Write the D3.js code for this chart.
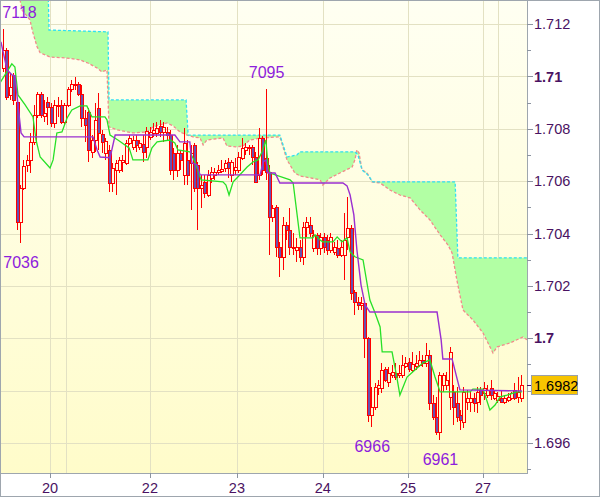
<!DOCTYPE html>
<html><head><meta charset="utf-8">
<script src="https://cdn.jsdelivr.net/npm/d3@7"></script>
<style>html,body{margin:0;padding:0;background:#fff;}svg{display:block;font-family:Arial,"Liberation Sans",sans-serif;}</style>
</head><body><svg id="c" width="600" height="497"></svg>
<script>
// ---- DATA (hourly candles) ----
const opens=[1.71032,1.71101,1.70929,1.71006,1.70902,1.70444,1.70574,1.70662,1.70681,1.70750,
1.70853,1.70933,1.70849,1.70902,1.70883,1.70822,1.70887,1.70891,1.70826,1.70891,
1.70952,1.70967,1.70971,1.70933,1.70841,1.70864,1.70712,1.70757,1.70880,1.70780,
1.70708,1.70719,1.70593,1.70643,1.70643,1.70673,1.70670,1.70746,1.70731,1.70757,
1.70731,1.70742,1.70731,1.70769,1.70784,1.70784,1.70811,1.70788,1.70788,1.70776,
1.70708,1.70643,1.70708,1.70624,1.70681,1.70670,1.70738,1.70662,1.70574,1.70597,
1.70547,1.70612,1.70624,1.70635,1.70639,1.70650,1.70673,1.70624,1.70643,1.70643,
1.70689,1.70719,1.70727,1.70731,1.70692,1.70624,1.70765,1.70689,1.70635,1.70463,
1.70501,1.70349,1.70311,1.70433,1.70414,1.70349,1.70337,1.70349,1.70311,1.70425,
1.70433,1.70345,1.70395,1.70345,1.70387,1.70375,1.70337,1.70330,1.70345,1.70318,
1.70318,1.70387,1.70421,1.70177,1.70139,1.70127,1.70135,1.70001,1.69707,1.69738,
1.69810,1.69810,1.69883,1.69833,1.69860,1.69868,1.69860,1.69860,1.69894,1.69910,
1.69879,1.69894,1.69898,1.69917,1.69906,1.69936,1.69753,1.69699,1.69642,1.69822,
1.69822,1.69776,1.69795,1.69753,1.69707,1.69680,1.69757,1.69757,1.69772,1.69757,
1.69803,1.69791,1.69783,1.69810,1.69772,1.69764,1.69772,1.69757,1.69764,1.69772,
1.69803,1.69776,1.69772];
const highs=[1.71181,1.71109,1.71013,1.71013,1.70910,1.70585,1.70681,1.70700,1.70784,1.70891,
1.70941,1.70941,1.70910,1.70922,1.70899,1.70910,1.70922,1.70910,1.70899,1.70960,
1.70986,1.70998,1.70979,1.70967,1.70872,1.70880,1.70776,1.70899,1.70937,1.70796,
1.70765,1.70738,1.70670,1.70681,1.70692,1.70700,1.70757,1.70776,1.70773,1.70776,
1.70757,1.70776,1.70807,1.70807,1.70822,1.70826,1.70834,1.70826,1.70807,1.70796,
1.70727,1.70738,1.70719,1.70803,1.70757,1.70738,1.70746,1.70673,1.70624,1.70624,
1.70643,1.70654,1.70650,1.70662,1.70681,1.70681,1.70689,1.70681,1.70689,1.70712,
1.70765,1.70746,1.70738,1.70738,1.70712,1.70803,1.70773,1.70950,1.70662,1.70509,
1.70509,1.70368,1.70463,1.70444,1.70498,1.70402,1.70383,1.70375,1.70444,1.70463,
1.70463,1.70414,1.70402,1.70402,1.70402,1.70395,1.70402,1.70368,1.70375,1.70375,
1.70479,1.70540,1.70433,1.70184,1.70158,1.70158,1.70139,1.70005,1.69814,1.69829,
1.69841,1.69906,1.69890,1.69890,1.69898,1.69906,1.69898,1.69936,1.69929,1.69925,
1.69948,1.69936,1.69952,1.69936,1.69982,1.69955,1.69783,1.69776,1.69871,1.69868,
1.69871,1.69967,1.69822,1.69814,1.69726,1.69814,1.69803,1.69795,1.69791,1.69814,
1.69814,1.69833,1.69822,1.69841,1.69803,1.69795,1.69803,1.69783,1.69791,1.69795,
1.69829,1.69852,1.69860];
const lows=[1.71017,1.70910,1.70910,1.70891,1.70414,1.70364,1.70566,1.70635,1.70631,1.70738,
1.70841,1.70841,1.70826,1.70815,1.70807,1.70803,1.70845,1.70818,1.70815,1.70883,
1.70941,1.70948,1.70925,1.70807,1.70750,1.70673,1.70689,1.70712,1.70719,1.70708,
1.70681,1.70559,1.70559,1.70547,1.70631,1.70635,1.70662,1.70738,1.70719,1.70712,
1.70719,1.70673,1.70689,1.70757,1.70769,1.70769,1.70769,1.70750,1.70757,1.70624,
1.70605,1.70616,1.70643,1.70585,1.70585,1.70490,1.70559,1.70414,1.70498,1.70536,
1.70540,1.70593,1.70605,1.70624,1.70631,1.70635,1.70612,1.70597,1.70624,1.70631,
1.70681,1.70700,1.70700,1.70662,1.70593,1.70605,1.70624,1.70605,1.70318,1.70444,
1.70311,1.70234,1.70261,1.70375,1.70318,1.70318,1.70291,1.70291,1.70280,1.70387,
1.70387,1.70330,1.70318,1.70318,1.70326,1.70318,1.70326,1.70318,1.70307,1.70311,
1.70223,1.70337,1.70146,1.70089,1.70108,1.70108,1.69925,1.69680,1.69660,1.69726,
1.69783,1.69791,1.69833,1.69814,1.69848,1.69841,1.69848,1.69848,1.69887,1.69871,
1.69871,1.69879,1.69890,1.69890,1.69890,1.69726,1.69688,1.69631,1.69610,1.69795,
1.69803,1.69726,1.69669,1.69680,1.69650,1.69657,1.69726,1.69719,1.69719,1.69715,
1.69745,1.69764,1.69772,1.69764,1.69764,1.69753,1.69753,1.69749,1.69757,1.69764,
1.69764,1.69753,1.69757];
const closes=[1.71101,1.70922,1.70960,1.70910,1.70444,1.70574,1.70658,1.70681,1.70750,1.70853,
1.70933,1.70853,1.70860,1.70883,1.70822,1.70891,1.70891,1.70826,1.70891,1.70952,
1.70971,1.70971,1.70933,1.70841,1.70815,1.70719,1.70757,1.70834,1.70784,1.70750,
1.70754,1.70593,1.70650,1.70670,1.70681,1.70681,1.70746,1.70765,1.70757,1.70738,
1.70746,1.70712,1.70792,1.70788,1.70796,1.70803,1.70788,1.70807,1.70776,1.70643,
1.70643,1.70708,1.70681,1.70746,1.70624,1.70708,1.70574,1.70574,1.70585,1.70555,
1.70624,1.70635,1.70635,1.70643,1.70647,1.70670,1.70650,1.70673,1.70654,1.70692,
1.70727,1.70731,1.70731,1.70692,1.70597,1.70765,1.70643,1.70635,1.70463,1.70498,
1.70349,1.70311,1.70433,1.70414,1.70349,1.70345,1.70349,1.70311,1.70425,1.70444,
1.70402,1.70395,1.70345,1.70387,1.70349,1.70337,1.70387,1.70349,1.70318,1.70349,
1.70375,1.70421,1.70173,1.70139,1.70127,1.70135,1.70001,1.69707,1.69738,1.69814,
1.69822,1.69879,1.69841,1.69868,1.69871,1.69852,1.69868,1.69898,1.69906,1.69883,
1.69902,1.69906,1.69917,1.69906,1.69936,1.69753,1.69699,1.69642,1.69860,1.69860,
1.69841,1.69948,1.69738,1.69699,1.69688,1.69795,1.69772,1.69772,1.69753,1.69795,
1.69783,1.69810,1.69803,1.69783,1.69791,1.69780,1.69757,1.69772,1.69776,1.69791,
1.69772,1.69795,1.69820];

// Indicator lines: [candle index, price]
const kijun=[[-0.9,1.71132],[0.9,1.71025],[2.3,1.71006],[3.2,1.71002],[4.1,1.70891],[5,1.70784],[5.9,1.70769],[26.1,1.70769],[27.3,1.70719],[28.2,1.70692],[31.1,1.70689],[32.6,1.70776],[50.1,1.70776],[51.6,1.70750],[54.5,1.70750],[55.1,1.70670],[56.6,1.70662],[57.5,1.70624],[75.1,1.70624],[76,1.70673],[76.8,1.70681],[77.4,1.70631],[79.5,1.70631],[80.9,1.70593],[99.4,1.70593],[100.6,1.70582],[101.5,1.70547],[102.6,1.70471],[103.5,1.70337],[104.7,1.70204],[105.9,1.70127],[107.3,1.70100],[127,1.70100],[128.2,1.69994],[128.7,1.69921],[131.4,1.69921],[133.7,1.69803],[151.9,1.69799]];
const tenkan=[[-1.2,1.70975],[2.3,1.71048],[3.2,1.71036],[4.1,1.70929],[6.2,1.70891],[8.5,1.70845],[9.4,1.70757],[10.6,1.70692],[13.5,1.70650],[14.4,1.70681],[15.5,1.70784],[17,1.70788],[18.5,1.70841],[19.9,1.70872],[22.3,1.70887],[24.3,1.70887],[25.8,1.70845],[29.6,1.70845],[30.2,1.70834],[31.1,1.70776],[33.4,1.70757],[36.7,1.70727],[37.8,1.70681],[42.2,1.70681],[43.4,1.70727],[44.9,1.70750],[48.7,1.70757],[50.1,1.70746],[51,1.70719],[54.5,1.70712],[56,1.70673],[57.8,1.70605],[64.2,1.70597],[65.1,1.70585],[66,1.70547],[67.2,1.70597],[68.3,1.70612],[71.3,1.70654],[73,1.70673],[74.5,1.70681],[75.7,1.70712],[76.8,1.70757],[77.4,1.70662],[78,1.70631],[83.9,1.70605],[84.8,1.70593],[86.8,1.70383],[90.6,1.70383],[91.2,1.70395],[92.7,1.70375],[93.5,1.70368],[96.5,1.70368],[97.7,1.70387],[99.1,1.70368],[100.6,1.70383],[101.5,1.70330],[102.9,1.70311],[105.3,1.70299],[107.3,1.70146],[108.8,1.70097],[110.3,1.70043],[110.9,1.69948],[113.8,1.69948],[115.2,1.69852],[116.1,1.69783],[118.2,1.69852],[120.5,1.69879],[122.9,1.69906],[124.9,1.69917],[126.4,1.69852],[127.9,1.69795],[136.7,1.69795],[137.5,1.69806],[140.5,1.69806],[142.5,1.69726],[144,1.69745],[145.5,1.69776],[147.5,1.69783],[150.4,1.69795],[151.9,1.69795]];
const spanB=[[3.8,1.71368],[12.9,1.71368],[13.2,1.71177],[30.5,1.71170],[30.8,1.70910],[53.4,1.70910],[54,1.70776],[80.9,1.70776],[83,1.70692],[85.9,1.70700],[86.8,1.70712],[102.9,1.70712],[103.8,1.70700],[105,1.70643],[106.7,1.70624],[108.2,1.70597],[132.3,1.70597],[133.1,1.70307],[153.4,1.70307]];
const spanA=[[3.8,1.71368],[4.7,1.71292],[5.3,1.71254],[7.6,1.71216],[8.5,1.71166],[9.7,1.71113],[10.6,1.71090],[13.5,1.71074],[18.5,1.71070],[22.3,1.71063],[24.6,1.71051],[27.3,1.71032],[28.7,1.71017],[30.2,1.71025],[30.8,1.70807],[33.1,1.70796],[37.8,1.70784],[41.9,1.70788],[43.7,1.70807],[45.7,1.70815],[47.8,1.70822],[49.6,1.70811],[51.6,1.70788],[53.7,1.70776],[55.4,1.70769],[57.5,1.70765],[58.4,1.70738],[59.5,1.70757],[64.2,1.70765],[65.4,1.70734],[68.3,1.70731],[70.1,1.70734],[72.1,1.70757],[75.7,1.70765],[80.9,1.70769],[83,1.70681],[85.3,1.70631],[86.8,1.70620],[92.7,1.70605],[93.5,1.70585],[95.6,1.70612],[98.5,1.70631],[102.1,1.70654],[102.9,1.70681],[103.5,1.70719],[104.1,1.70708],[105,1.70643],[106.5,1.70631],[107.9,1.70597],[110.3,1.70593],[113.2,1.70566],[116.1,1.70547],[119.1,1.70536],[122,1.70490],[124.9,1.70452],[127.9,1.70395],[130.2,1.70356],[131.4,1.70326],[132.8,1.70223],[134.6,1.70108],[137.5,1.70070],[140.5,1.70020],[143.4,1.69944],[144.6,1.69967],[148.4,1.69982],[152.2,1.70005],[153.4,1.69994]];

const priceTicks=[1.696,1.698,1.700,1.702,1.704,1.706,1.708,1.710,1.712];
const minorTicks=[1.695,1.697,1.699,1.701,1.703,1.705,1.707,1.709,1.711];
const dayTicks=[13.5,42.8,68.3,93.5,118.5,140.5];
const dayLabels=["20","22","23","24","25","27"];
const gridCols=[13.5,18.2,42.8,68.3,93.5,118.5,140.5,144.9];
const extremeIdx=[0,77,5,108,128];
const extremeKind=["high","high","low","low","low"];
const lastPrice=1.6982;

// ---- DRAW ----
const svg=d3.select('#c');
const PL=1,PT=1,PR=527,PB=473;
const x=d3.scaleLinear().domain([0,152]).range([4,522.3]);
const y=d3.scaleLinear().domain([1.696,1.712]).range([443,24]);

const defs=svg.append('defs');
const gr=defs.append('linearGradient').attr('id','bg').attr('x1',0).attr('y1',0).attr('x2',0).attr('y2',1);
gr.append('stop').attr('offset','0%').attr('stop-color','#fffff2');
gr.append('stop').attr('offset','100%').attr('stop-color','#fffcca');
defs.append('clipPath').attr('id','clip').append('rect').attr('x',PL).attr('y',PT).attr('width',PR-PL).attr('height',PB-PT);

svg.append('rect').attr('width',600).attr('height',497).attr('fill','#fff');
svg.append('rect').attr('x',PL).attr('y',PT).attr('width',PR-PL).attr('height',PB-PT).attr('fill','url(#bg)');

const grid=svg.append('g').attr('shape-rendering','crispEdges').attr('stroke','#e3e1c3').attr('stroke-width',1);
priceTicks.forEach(v=>{const yy=Math.round(y(v))+0.5;grid.append('line').attr('x1',PL).attr('x2',PR).attr('y1',yy).attr('y2',yy);});
gridCols.forEach(v=>{const xx=Math.round(x(v))+0.5;grid.append('line').attr('x1',xx).attr('x2',xx).attr('y1',PT).attr('y2',PB);});

const g=svg.append('g').attr('clip-path','url(#clip)');
const ln=d3.line().x(d=>x(d[0])).y(d=>y(d[1]));
// cloud
const poly=spanB.concat(spanA.slice().reverse());
g.append('path').attr('d',ln(poly)+'Z').attr('fill','#b2ffa4').attr('stroke','none');
g.append('path').attr('d',ln(spanA)).attr('fill','none').attr('stroke','#f28a8a').attr('stroke-width',1.3).attr('stroke-dasharray','3,2');
g.append('path').attr('d',ln(spanB)).attr('fill','none').attr('stroke','#2fe0f2').attr('stroke-width',1.3).attr('stroke-dasharray','3,2');

// candles
const cg=g.append('g').attr('shape-rendering','crispEdges');
for(let i=0;i<opens.length;i++){
  const cx=Math.round(x(i));
  const yo=Math.round(y(opens[i])),yc=Math.round(y(closes[i])),yh=Math.round(y(highs[i])),yl=Math.round(y(lows[i]));
  const top=Math.min(yo,yc),bot=Math.max(yo,yc);
  const bear=closes[i]<opens[i];
  if(yh<top) cg.append('line').attr('x1',cx-0.5).attr('x2',cx-0.5).attr('y1',yh).attr('y2',top).attr('stroke','#ff0000');
  if(yl>bot) cg.append('line').attr('x1',cx-0.5).attr('x2',cx-0.5).attr('y1',bot).attr('y2',yl).attr('stroke','#ff0000');
  if(bot-top<1){
    cg.append('line').attr('x1',cx-2).attr('x2',cx+2).attr('y1',top+0.5).attr('y2',top+0.5).attr('stroke','#ff0000');
  } else {
    cg.append('rect').attr('x',cx-1.5).attr('y',top+0.5).attr('width',3).attr('height',bot-top)
      .attr('fill',bear?'#6b4fae':'none').attr('stroke','#ff0000').attr('stroke-width',1);
  }
}
g.append('path').attr('d',ln(tenkan)).attr('fill','none').attr('stroke','#27e027').attr('stroke-width',1.3);
g.append('path').attr('d',ln(kijun)).attr('fill','none').attr('stroke','#9a2fd0').attr('stroke-width',1.4);

// extreme labels
extremeIdx.forEach((idx,k)=>{
  const v=extremeKind[k]==='high'?highs[idx]:lows[idx];
  const txt=v.toFixed(4).slice(2);
  let cx=x(idx); cx=Math.max(cx,19.5);
  const by=extremeKind[k]==='high'?y(v)-11:y(v)+25;
  svg.append('text').attr('x',cx).attr('y',by).attr('text-anchor','middle').attr('font-size',16).attr('fill','#8d20dc').text(txt);
});

// frame
const fr=svg.append('g').attr('shape-rendering','crispEdges').attr('stroke','#9ea6ae');
fr.append('rect').attr('x',0.5).attr('y',0.5).attr('width',599).attr('height',496).attr('fill','none');
fr.append('line').attr('x1',PR+0.5).attr('x2',PR+0.5).attr('y1',0).attr('y2',PB+1);
fr.append('line').attr('x1',0).attr('x2',PR+1).attr('y1',PB+0.5).attr('y2',PB+0.5);

// right axis
const ax=svg.append('g').attr('shape-rendering','crispEdges');
const yLast=y(lastPrice);
priceTicks.forEach(v=>{
  const yy=Math.round(y(v))+0.5;
  ax.append('line').attr('x1',PR).attr('x2',PR+6).attr('y1',yy).attr('y2',yy).attr('stroke','#8c94a0');
  if(Math.abs(y(v)-yLast)<12) return;
  const major=Math.abs(v*100-Math.round(v*100))<1e-6;
  svg.append('text').attr('x',PR+7).attr('y',y(v)).attr('dy','0.36em').attr('font-size',14.5)
    .attr('font-weight',major?'bold':'normal').attr('fill','#4a1262').text(String(+v.toFixed(3)));
});
minorTicks.forEach(v=>{const yy=Math.round(y(v))+0.5;ax.append('line').attr('x1',PR).attr('x2',PR+4).attr('y1',yy).attr('y2',yy).attr('stroke','#8c94a0');});
// bottom axis
dayTicks.forEach((v,k)=>{
  const xx=Math.round(x(v))+0.5;
  ax.append('line').attr('x1',xx).attr('x2',xx).attr('y1',PB).attr('y2',PB+5).attr('stroke','#8c94a0');
  svg.append('text').attr('x',x(v)).attr('y',493).attr('text-anchor','middle').attr('font-size',14.5).attr('fill','#4a1262').text(dayLabels[k]);
});
// last price marker
ax.append('line').attr('x1',PR).attr('x2',PR+4).attr('y1',Math.round(yLast)+0.5).attr('y2',Math.round(yLast)+0.5).attr('stroke','#4a1262');
svg.append('rect').attr('x',531.5).attr('y',Math.round(yLast)-9.5).attr('width',46).attr('height',19).attr('fill','#f7c400').attr('stroke','#9aa0a8').attr('shape-rendering','crispEdges');
svg.append('text').attr('x',534).attr('y',yLast).attr('dy','0.36em').attr('font-size',14.5).attr('fill','#000').text(lastPrice.toFixed(4));
</script></body></html>
